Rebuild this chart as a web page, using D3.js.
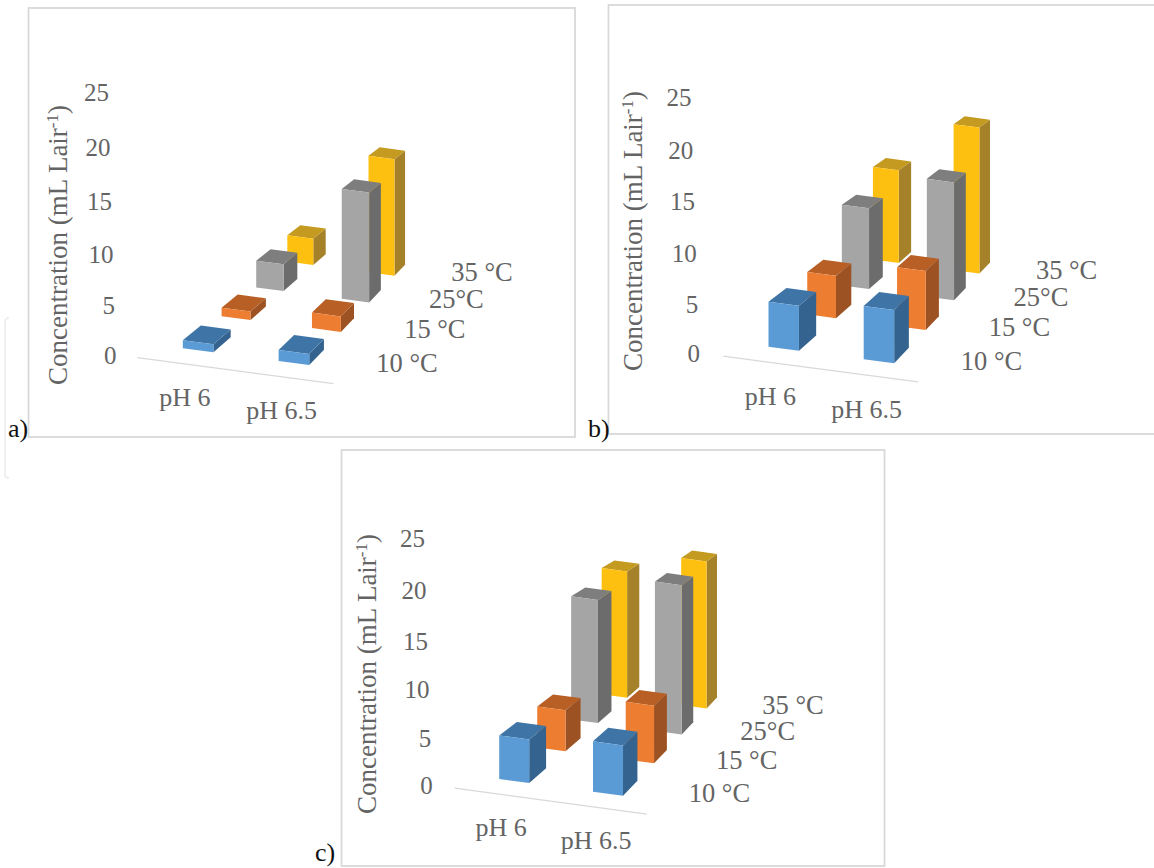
<!DOCTYPE html>
<html><head><meta charset="utf-8">
<script src="https://cdnjs.cloudflare.com/ajax/libs/d3/7.8.5/d3.min.js"></script>
<style>html,body{margin:0;padding:0;background:#fff}svg{display:block}</style>
</head><body><svg id="c" width="1154" height="868"></svg>
<script>
const categories = ["pH 6", "pH 6.5"];
const seriesNames = ["10 °C", "15 °C", "25°C", "35 °C"];
const yTicks = [0, 5, 10, 15, 20, 25];
const panelA = [[0.8, 1.1], [0.9, 1.65], [3.0, 12.1], [3.1, 13.5]];
const panelB = [[4.55, 5.4], [4.55, 6.3], [9.05, 13.1], [10.9, 17.0]];
const panelC = [[4.6, 5.3], [4.6, 6.4], [14.3, 17.2], [15.4, 17.8]];

const faces = [
  {front: "#5B9BD5", top: "#3F75A6", side: "#33638E"},
  {front: "#ED7D31", top: "#B85F26", side: "#9C5222"},
  {front: "#A5A5A5", top: "#7E7E7E", side: "#6C6C6C"},
  {front: "#FEC010", top: "#C49A20", side: "#A5812A"}
];
const ink = "#646464", frameC = "#D9D9D9";
const serif = "'Liberation Serif','Times New Roman',serif";
const barW = 0.32, barD = 0.45, k = 0.06;

const panels = [
  {data: panelA, letter: "a)", lx: 8, ly: 437,
   o: [182.8, 348.3], u: [95.8, 12.7], v: [868, -220],
   tickY: [355, 305, 254, 201.7, 147.7, 92.7], tx0: 116.5, tx1: 109,
   tt: [66.5, 245], ax: [-0.3, 1.7]},
  {data: panelB, letter: "b)", lx: 588, ly: 437,
   o: [768.5, 346.7], u: [95.2, 12.6], v: [1453, -225],
   tickY: [353.3, 304, 253.3, 201.7, 150, 97.3], tx0: 700, tx1: 691.6,
   tt: [642, 231], ax: [-0.3, 1.7]},
  {data: panelC, letter: "c)", lx: 315, ly: 861,
   o: [499.2, 779], u: [93.8, 12.7], v: [1171, 223],
   tickY: [785.7, 738.3, 689.3, 641, 590, 538.3], tx0: 432.7, tx1: 425,
   tt: [376, 674], ax: [-0.3, 1.7]}
];

const svg = d3.select("#c");
svg.append("rect").attr("width", 1154).attr("height", 868).attr("fill", "#fff");

// faint stray bracket and the three chart frames
svg.append("path").attr("fill", "none").attr("stroke", "#EFEFEF").attr("stroke-width", 2)
  .attr("d", "M9,318Q5,318 5,322L5,474Q5,478 9,478");
const frame = (x, y, w, h) => svg.append("rect").attr("x", x).attr("y", y).attr("width", w).attr("height", h)
  .attr("fill", "#fff").attr("stroke", frameC).attr("stroke-width", 1.8);
frame(28.5, 8, 546.5, 429);
frame(608.5, 5, 560, 429);
frame(341.5, 450, 543, 416);

panels.forEach(p => {
  const g = svg.append("g");
  const height = d3.scaleLinear().domain(yTicks).range(p.tickY.map(t => p.tickY[0] - t));
  const yAxisScale = d3.scaleLinear().domain(yTicks).range(p.tickY);
  const lean = d3.scaleLinear().domain([0, 25]).range([p.tx0, p.tx1]);
  const persp = w => 1 / (1 + k * w);
  const project = (u, w, val) => {
    const s = persp(w);
    const fx = p.o[0] + u * p.u[0], fy = p.o[1] + u * p.u[1] - height(val);
    return [p.v[0] + (fx - p.v[0]) * s, p.v[1] + (fy - p.v[1]) * s];
  };
  const poly = pts => d3.line()(pts) + "Z";

  // floor line
  const a0 = project(p.ax[0], -0.38, 0), a1 = project(p.ax[1], -0.38, 0);
  g.append("line").attr("x1", a0[0]).attr("y1", a0[1]).attr("x2", a1[0]).attr("y2", a1[1])
    .attr("stroke", "#D9D9D9").attr("stroke-width", 1.2);

  // bars back to front
  d3.range(seriesNames.length).reverse().forEach(si => {
    categories.forEach((c, ci) => {
      const val = p.data[si][ci], f = faces[si];
      const u0 = ci, u1 = ci + barW, w0 = si, w1 = si + barD;
      g.append("path").attr("fill", f.side).attr("d", poly([
        project(u1, w0, 0), project(u1, w1, 0), project(u1, w1, val), project(u1, w0, val)]));
      g.append("path").attr("fill", f.top).attr("d", poly([
        project(u0, w0, val), project(u1, w0, val), project(u1, w1, val), project(u0, w1, val)]));
      g.append("path").attr("fill", f.front).attr("d", poly([
        project(u0, w0, 0), project(u1, w0, 0), project(u1, w0, val), project(u0, w0, val)]));
    });
  });

  // value axis
  const axG = g.append("g").call(d3.axisLeft(yAxisScale).tickValues(yTicks).tickSize(0).tickFormat(d3.format("d")));
  axG.select(".domain").remove();
  axG.selectAll("text").attr("x", d => lean(d)).attr("dy", "0.33em")
    .attr("text-anchor", "end").attr("font-family", serif).attr("font-size", 25).attr("fill", ink);

  // category labels
  categories.forEach((c, i) => {
    const q = project(0.45 + i * 0.95, -1, 0);
    g.append("text").attr("x", q[0]).attr("y", q[1] + 7).attr("dy", "0.33em").attr("text-anchor", "middle")
      .attr("font-family", serif).attr("font-size", 26).attr("fill", ink).text(c);
  });

  // series labels
  seriesNames.forEach((n, i) => {
    const q = project(2.02, i, 0);
    g.append("text").attr("x", q[0]).attr("y", q[1] - 11).attr("dy", "0.33em")
      .attr("font-family", serif).attr("font-size", 26.5).attr("fill", ink).text(n);
  });

  // value axis title
  const t = g.append("text").attr("transform", `translate(${p.tt[0]},${p.tt[1]}) rotate(-90)`)
    .attr("text-anchor", "middle").attr("font-family", serif).attr("font-size", 27).attr("fill", ink);
  t.append("tspan").text("Concentration (mL Lair");
  t.append("tspan").attr("dy", -9).attr("font-size", 17).text("-1");
  t.append("tspan").attr("dy", 9).text(")");

  // panel letter
  svg.append("text").attr("x", p.lx).attr("y", p.ly).attr("font-family", serif).attr("font-size", 26)
    .attr("fill", "#111").text(p.letter);
});
</script></body></html>
